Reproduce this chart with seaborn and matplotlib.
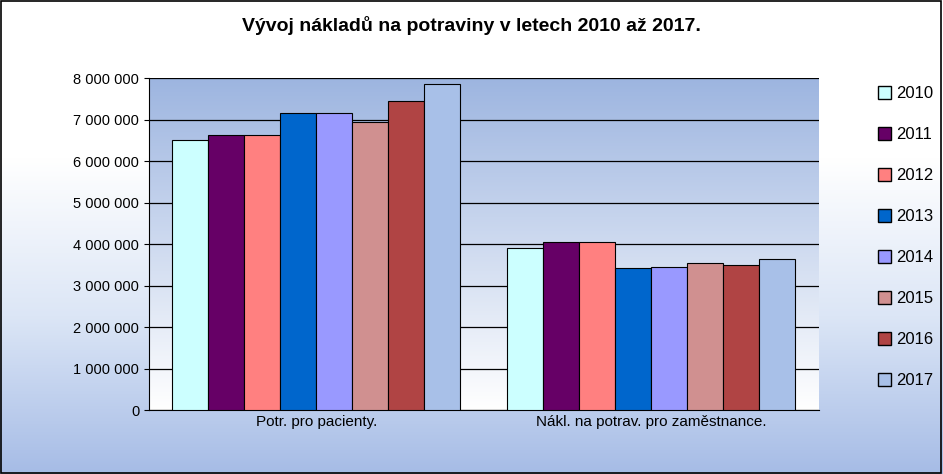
import numpy as np
import pandas as pd
import matplotlib
matplotlib.use("Agg")
import matplotlib.pyplot as plt
import seaborn as sns
from matplotlib.patches import Patch
from matplotlib.colors import LinearSegmentedColormap

plt.rcParams["font.family"] = "Liberation Sans"

categories = ["Potr. pro pacienty.", "Nákl. na potrav. pro zaměstnance."]
years = ["2010", "2011", "2012", "2013", "2014", "2015", "2016", "2017"]
vals_pacienti = [6500000, 6620000, 6620000, 7150000, 7150000, 6950000, 7450000, 7850000]
vals_zamestnanci = [3900000, 4050000, 4050000, 3420000, 3450000, 3550000, 3500000, 3650000]
colors = ["#CCFFFF", "#660066", "#FF8080", "#0066CC", "#9999FF", "#D09090", "#B04444", "#A8C0E8"]
yticks = [0, 1000000, 2000000, 3000000, 4000000, 5000000, 6000000, 7000000, 8000000]

rows = []
for y, a, b in zip(years, vals_pacienti, vals_zamestnanci):
    rows.append((categories[0], y, a))
    rows.append((categories[1], y, b))
df = pd.DataFrame(rows, columns=["cat", "year", "value"])

fig = plt.figure(figsize=(9.43, 4.74), dpi=100)
bgax = fig.add_axes([0, 0, 1, 1], zorder=-10)
grad = np.linspace(0, 1, 256).reshape(-1, 1)
bgcmap = LinearSegmentedColormap.from_list("fbg", ["#A6BCE6", "#DCE6F6", "#FFFFFF", "#FFFFFF"])
bgax.imshow(grad, extent=[0, 1, 0, 1], aspect="auto", cmap=bgcmap, origin="lower")
bgax.axis("off")
fig.add_artist(plt.Rectangle((0.001, 0.002), 0.997, 0.996, transform=fig.transFigure,
                             fill=False, edgecolor="black", lw=1.2))

ax = fig.add_axes([0.158, 0.135, 0.71, 0.7])
cmap = LinearSegmentedColormap.from_list("bg", ["#FFFFFF", "#9DB5E0"])
ax.imshow(grad, extent=[-0.5, 1.5, 0, 8000000], aspect="auto", cmap=cmap, origin="lower", zorder=0)

sns.barplot(data=df, x="cat", y="value", hue="year", palette=colors, hue_order=years,
            order=categories, ax=ax, width=0.86, edgecolor="black", linewidth=0.8,
            saturation=1, zorder=3, legend=False)
ax.set_xlim(-0.5, 1.5)
ax.set_ylim(0, 8000000)
ax.set_yticks(yticks)
ax.set_yticklabels([f"{v:,}".replace(",", " ") for v in yticks], fontsize=10.5)
ax.yaxis.grid(True, color="black", lw=0.9, zorder=1)
ax.set_axisbelow(True)
ax.set_xlabel("")
ax.set_ylabel("")
ax.tick_params(axis="x", labelsize=11, length=0)
for s in ["top", "right"]:
    ax.spines[s].set_visible(False)

fig.text(0.5, 0.935, "Vývoj nákladů na potraviny v letech 2010 až 2017.", ha="center",
         fontsize=14, fontweight="bold")
handles = [Patch(facecolor=c, edgecolor="black", label=y) for c, y in zip(colors, years)]
fig.legend(handles=handles, loc="center left", bbox_to_anchor=(0.915, 0.5), frameon=False,
           fontsize=12, handlelength=0.8, handleheight=0.8, labelspacing=1.55, handletextpad=0.3)
fig.savefig("out.png", dpi=100)
